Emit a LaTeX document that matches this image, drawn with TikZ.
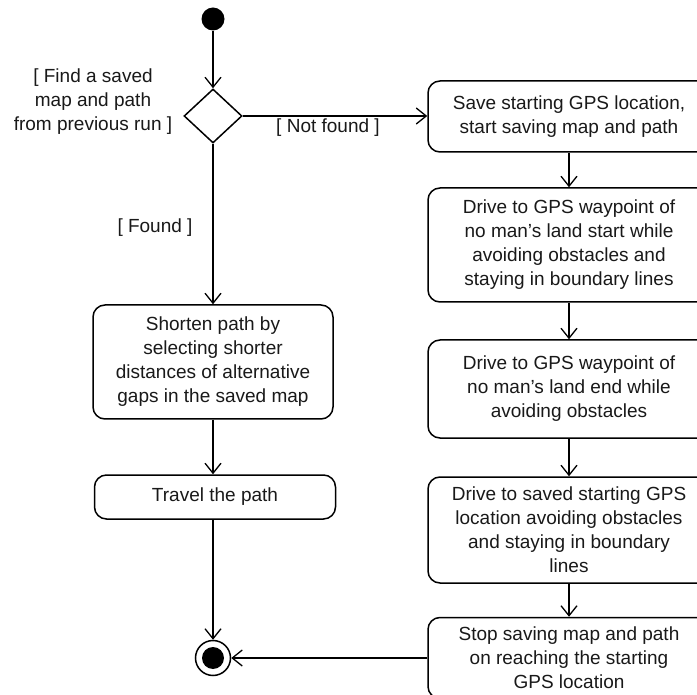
\documentclass[tikz,border=0pt]{standalone}
\usepackage{fontspec}
\setmainfont{Liberation Sans}
\usetikzlibrary{arrows.meta,shapes.geometric,calc}
\begin{document}
\begin{tikzpicture}[x=1pt,y=-1pt,
  every node/.style={font=\fontsize{19}{24}\selectfont, text=black!90},
  actbox/.style={draw, line width=1.5pt, rounded corners=12pt, align=center, inner sep=0pt},
  flow/.style={line width=1.3pt, -{Straight Barb[length=10pt,width=16pt,line width=1.3pt]}},
  guard/.style={align=center, inner sep=0pt}
]
\useasboundingbox (0,0) rectangle (697,695);
\clip (0,0) rectangle (697,695);
\fill[white] (0,0) rectangle (697,695);

\node[circle, fill=black, minimum size=23pt, inner sep=0pt] (start) at (213,19) {};
\node[diamond, draw, line width=1.5pt, minimum width=58pt, minimum height=54pt, inner sep=0pt] (dia) at (213,116) {};

\node[guard] (cond) at (93,102) {[ Find a saved\\map and path\\from previous run ]};
\node[guard] (nf) at (328,128) {[ Not found ]};
\node[guard] (fd) at (155,228) {[ Found ]};

\node[actbox, minimum width=282pt, minimum height=71pt] (b1) at (569,116.5) {Save starting GPS location,\\start saving map and path};
\node[actbox, minimum width=282pt, minimum height=114pt] (b2) at (569,245) {Drive to GPS waypoint of\\no man’s land start while\\avoiding obstacles and\\staying in boundary lines};
\node[actbox, minimum width=282pt, minimum height=98pt] (b3) at (569,389) {Drive to GPS waypoint of\\no man’s land end while\\avoiding obstacles};
\node[actbox, minimum width=282pt, minimum height=106pt] (b4) at (569,530) {Drive to saved starting GPS\\location avoiding obstacles\\and staying in boundary\\lines};
\node[actbox, minimum width=282pt, minimum height=81pt] (b5) at (569,658) {Stop saving map and path\\on reaching the starting\\GPS location};

\node[actbox, minimum width=240pt, minimum height=114pt] (l1) at (213,362) {Shorten path by\\selecting shorter\\distances of alternative\\gaps in the saved map};
\node[actbox, minimum width=241pt, minimum height=44pt] (l2) at (215,497) {Travel the path};

\node[circle, draw, line width=1.5pt, minimum size=35pt, inner sep=0pt] (fin) at (213,658) {};
\node[circle, fill=black, minimum size=22pt, inner sep=0pt] (finin) at (fin.center) {};

\draw[flow] (start) -- (dia.north);
\draw[flow] (dia.east) -- (dia.east -| b1.west);
\draw[flow] (dia.south) -- (l1.north);
\draw[flow] (l1.south) -- (l1.south |- l2.north);
\draw[flow] (fin.north |- l2.south) -- (fin.north);
\draw[flow] (b1.south) -- (b2.north);
\draw[flow] (b2.south) -- (b3.north);
\draw[flow] (b3.south) -- (b4.north);
\draw[flow] (b4.south) -- (b5.north);
\draw[flow] (b5.west |- fin) -- (fin.east);
\end{tikzpicture}
\end{document}
